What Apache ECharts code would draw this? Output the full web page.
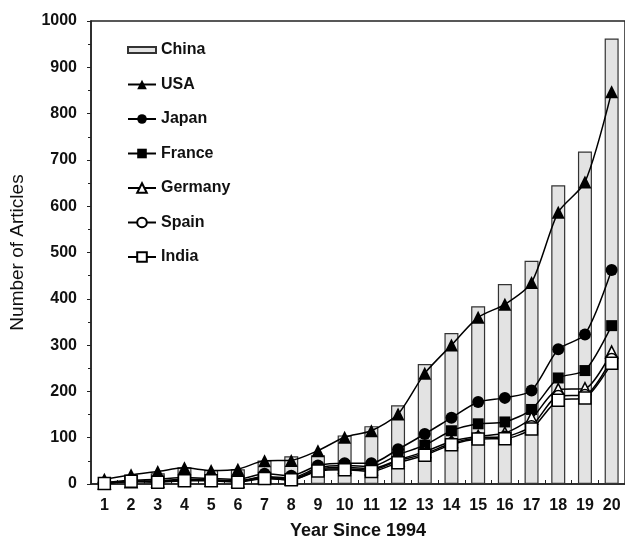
<!DOCTYPE html>
<html>
<head>
<meta charset="utf-8">
<script src="https://cdn.jsdelivr.net/npm/echarts@6/dist/echarts.min.js"></script>
<style>
  html, body { margin: 0; padding: 0; background: #fff; }
  #chart { width: 625px; height: 545px; }
</style>
</head>
<body>
<div id="chart"></div>
<script>
// years since 1994
const years = ['1', '2', '3', '4', '5', '6', '7', '8', '9', '10', '11', '12', '13', '14', '15', '16', '17', '18', '19', '20']

const china = [5, 20, 23, 36, 30, 32, 51, 60, 62, 105, 125, 170, 259, 326, 384, 432, 482, 645, 718, 962]
const usa = [10, 20, 27, 35, 29, 32, 50, 51, 72, 101, 115, 151, 239, 300, 360, 388, 435, 587, 652, 847]
const japan = [3, 8, 10, 14, 12, 10, 22, 18, 40, 45, 45, 75, 108, 143, 177, 186, 202, 291, 323, 462]
const france = [2, 6, 7, 10, 9, 7, 16, 13, 35, 40, 38, 63, 84, 115, 130, 134, 161, 229, 245, 342]
const germany = [2, 5, 6, 9, 8, 6, 15, 10, 32, 36, 33, 52, 70, 92, 103, 110, 142, 204, 206, 285]
const spain = [1, 6, 5, 8, 8, 5, 13, 9, 30, 33, 30, 50, 65, 88, 100, 102, 125, 190, 192, 270]
const india = [1, 6, 4, 7, 7, 4, 12, 9, 28, 31, 27, 46, 62, 85, 97, 98, 119, 181, 186, 261]

const FONT = '"Liberation Sans", Arial, sans-serif'

const chart = echarts.init(document.getElementById('chart'))

// 折线系列的公共样式
const lineSeries = (name, data, symbol, filled, size) => ({
  name,
  type: 'line',
  data,
  smooth: 0.25,
  symbol,
  symbolSize: size,
  lineStyle: { color: '#000', width: 1.5 },
  itemStyle: {
    color: filled ? '#000' : '#fff',
    borderColor: '#000',
    borderWidth: filled ? 0 : 1.5
  },
  emphasis: { disabled: true }
})

const option = {
  animation: false,
  backgroundColor: '#fff',
  textStyle: { fontFamily: FONT },
  grid: {
    left: 88,
    right: -1,
    top: 21,
    bottom: 56,
    show: true,
    borderColor: '#222',
    borderWidth: 1.5
  },
  legend: {
    orient: 'vertical',
    left: 122,
    top: 37,
    itemWidth: 28,
    itemHeight: 12,
    itemGap: 18.5,
    textStyle: { fontFamily: FONT, fontSize: 16, fontWeight: 'bold', color: '#111', lineHeight: 16 },
    data: [
      { name: 'China', icon: 'path://M0,0 M0,3 L28,3 L28,9 L0,9 Z M28,12' },
      'USA', 'Japan', 'France', 'Germany', 'Spain', 'India'
    ]
  },
  xAxis: {
    type: 'category',
    data: years,
    boundaryGap: true,
    name: 'Year Since 1994',
    nameLocation: 'middle',
    nameGap: 38,
    nameTextStyle: { fontFamily: FONT, fontSize: 18, fontWeight: 'bold', color: '#111' },
    axisLine: { lineStyle: { color: '#222', width: 1.5 } },
    axisTick: { show: true, inside: true, length: 4, alignWithLabel: false, lineStyle: { color: '#222' } },
    axisLabel: { fontFamily: FONT, fontSize: 16, fontWeight: 'bold', color: '#111', margin: 14 },
    splitLine: { show: false }
  },
  yAxis: {
    type: 'value',
    min: 0,
    max: 1000,
    interval: 100,
    name: 'Number of Articles',
    nameLocation: 'middle',
    nameGap: 64,
    nameTextStyle: { fontFamily: FONT, fontSize: 19, color: '#111' },
    axisLine: { show: true, lineStyle: { color: '#222', width: 1.5 } },
    axisTick: { show: true, length: 4, lineStyle: { color: '#222' } },
    minorTick: { show: true, splitNumber: 2, length: 3, lineStyle: { color: '#222' } },
    axisLabel: { fontFamily: FONT, fontSize: 16, fontWeight: 'bold', color: '#111', margin: 14, formatter: v => String(v) },
    splitLine: { show: false }
  },
  series: [
    {
      name: 'China',
      type: 'bar',
      data: china,
      barWidth: 14,
      itemStyle: { color: '#e3e3e3', borderColor: '#333', borderWidth: 1.2 },
      emphasis: { disabled: true }
    },
    lineSeries('USA', usa, 'triangle', true, 13),
    lineSeries('Japan', japan, 'circle', true, 12),
    lineSeries('France', france, 'rect', true, 11),
    lineSeries('Germany', germany, 'triangle', false, 12),
    lineSeries('Spain', spain, 'circle', false, 11),
    lineSeries('India', india, 'rect', false, 12)
  ]
}

chart.setOption(option)
</script>
</body>
</html>
